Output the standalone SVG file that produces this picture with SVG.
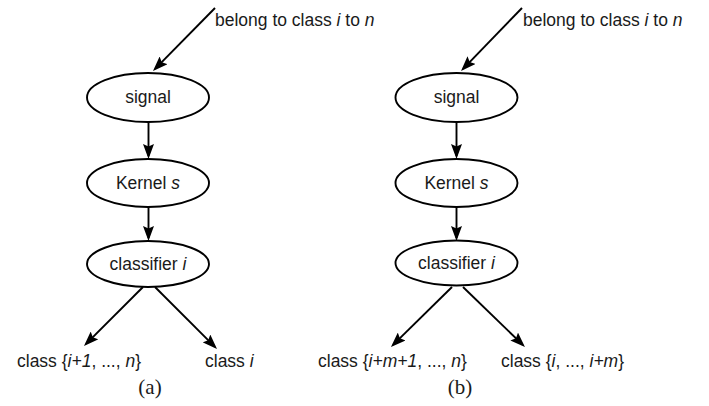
<svg xmlns="http://www.w3.org/2000/svg" width="709" height="406" viewBox="0 0 709 406">
<style>
.node{fill:#fff;stroke:#000;stroke-width:1.9}
.t{font-family:"Liberation Sans",Arial,sans-serif;font-size:17.5px;fill:#1a1a1a}
.c{text-anchor:middle}
.cap{font-family:"Liberation Serif","Times New Roman",serif;font-size:21px;fill:#1a1a1a;text-anchor:middle}
.edge{stroke:#000;stroke-width:1.9;fill:none;marker-end:url(#ah)}
</style>
<defs>
<marker id="ah" viewBox="0 0 15 11" markerWidth="15" markerHeight="11" markerUnits="userSpaceOnUse" refX="12" refY="5.5" orient="auto">
<path d="M0,0 L15,5.5 L0,11 L2.5,5.5 z" fill="#000"/>
</marker>
</defs>
<rect width="709" height="406" fill="#fff"/>
<g id="connectors">
<line class="edge" x1="215" y1="8" x2="155.1" y2="68.9"/>
<line class="edge" x1="148.5" y1="122" x2="148.5" y2="156"/>
<line class="edge" x1="148.5" y1="207" x2="148.5" y2="238"/>
<line class="edge" x1="143" y1="287" x2="86.1" y2="343.9"/>
<line class="edge" x1="155" y1="287" x2="214.9" y2="346.9"/>
<line class="edge" x1="522" y1="8" x2="463.1" y2="68.8"/>
<line class="edge" x1="456.5" y1="122" x2="456.5" y2="156"/>
<line class="edge" x1="456.5" y1="207" x2="456.5" y2="238"/>
<line class="edge" x1="452" y1="287" x2="393.1" y2="344.9"/>
<line class="edge" x1="463" y1="287" x2="522.8" y2="344.9"/>
</g>
<g id="input-a"><text class="t" x="215" y="26">belong to class <tspan font-style="italic">i</tspan> to <tspan font-style="italic">n</tspan></text></g>
<g id="signal-a"><ellipse class="node" cx="148" cy="97.5" rx="61" ry="24.5"/><text class="t c" x="148" y="103">signal</text></g>
<g id="kernel-a"><ellipse class="node" cx="148" cy="183" rx="61" ry="24"/><text class="t c" x="148" y="188.5">Kernel <tspan font-style="italic">s</tspan></text></g>
<g id="classifier-a"><ellipse class="node" cx="148" cy="264" rx="61" ry="23"/><text class="t c" x="148" y="269.5">classifier <tspan font-style="italic">i</tspan></text></g>
<g id="out1-a"><text class="t" x="17" y="367">class {<tspan font-style="italic">i+1</tspan>, ..., <tspan font-style="italic">n</tspan>}</text></g>
<g id="out2-a"><text class="t" x="205" y="367">class <tspan font-style="italic">i</tspan></text></g>
<text class="cap" x="150" y="394">(a)</text>
<g id="input-b"><text class="t" x="523" y="26">belong to class <tspan font-style="italic">i</tspan> to <tspan font-style="italic">n</tspan></text></g>
<g id="signal-b"><ellipse class="node" cx="456.5" cy="97.5" rx="61" ry="24.5"/><text class="t c" x="456.5" y="103">signal</text></g>
<g id="kernel-b"><ellipse class="node" cx="456.5" cy="183" rx="61" ry="24"/><text class="t c" x="456.5" y="188.5">Kernel <tspan font-style="italic">s</tspan></text></g>
<g id="classifier-b"><ellipse class="node" cx="456.5" cy="263" rx="61" ry="22.5"/><text class="t c" x="456.5" y="268.5">classifier <tspan font-style="italic">i</tspan></text></g>
<g id="out1-b"><text class="t" x="318" y="367">class {<tspan font-style="italic">i+m+1</tspan>, ..., <tspan font-style="italic">n</tspan>}</text></g>
<g id="out2-b"><text class="t" x="501" y="367">class {<tspan font-style="italic">i</tspan>, ..., <tspan font-style="italic">i+m</tspan>}</text></g>
<text class="cap" x="460" y="394">(b)</text>
</svg>
